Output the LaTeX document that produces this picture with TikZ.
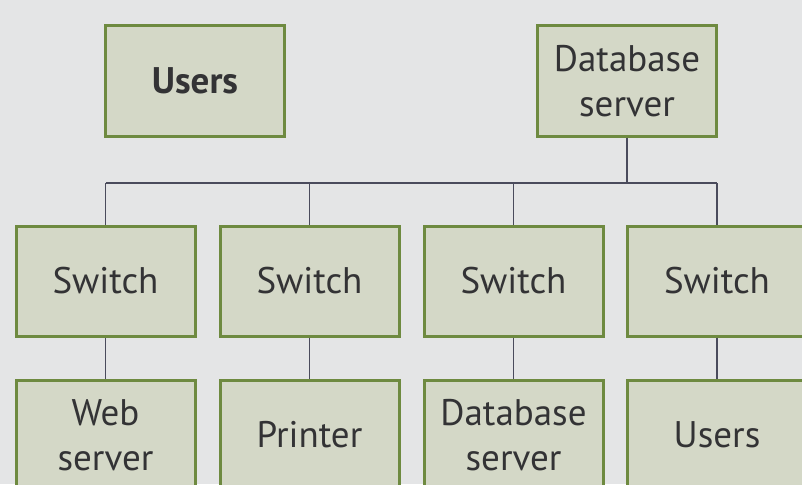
\documentclass[tikz,border=0pt]{standalone}
\usepackage{fontspec}
\setmainfont{PT Sans}
\definecolor{paper}{HTML}{E4E5E6}
\definecolor{boxfill}{HTML}{D4D8C7}
\definecolor{boxline}{HTML}{6E8A40}
\definecolor{wire}{HTML}{4A4B5C}
\definecolor{ink}{HTML}{333335}
\tikzset{
  netbox/.style={draw=boxline, line width=3pt, fill=boxfill, minimum width=179pt,
    minimum height=110pt, inner sep=0pt, align=center, text=ink,
    font=\fontsize{37}{45}\selectfont},
  link/.style={draw=wire, line width=1.8pt}
}
\begin{document}
\begin{tikzpicture}[x=1pt,y=-1pt]
\useasboundingbox (0,0) rectangle (802,484);
\fill[paper] (0,0) rectangle (802,484);
\clip (0,0) rectangle (802,484);
% top row
\node[netbox] (users) at (195,81) {\bfseries Users};
\node[netbox] (db) at (627,81) {Database\\server};
% switches
\node[netbox] (s1) at (105.5,281) {Switch};
\node[netbox] (s2) at (309.5,281) {Switch};
\node[netbox] (s3) at (513.5,281) {Switch};
\node[netbox] (s4) at (717,281) {Switch};
% devices
\node[netbox] (d1) at (105.5,435) {Web\\server};
\node[netbox] (d2) at (309.5,435) {Printer};
\node[netbox] (d3) at (513.5,435) {Database\\server};
\node[netbox] (d4) at (717,435) {Users};
% backbone
\coordinate (bus) at (0,183);
\draw[link] (db.south) -- (db.south |- bus);
\draw[link] (s1.north |- bus) -- (s4.north |- bus);
\foreach \s in {s1,s2,s3,s4}{
  \draw[link] (\s.north) -- (\s.north |- bus);
}
\draw[link] (s1) -- (d1);
\draw[link] (s2) -- (d2);
\draw[link] (s3) -- (d3);
\draw[link] (s4) -- (d4);
\end{tikzpicture}
\end{document}
